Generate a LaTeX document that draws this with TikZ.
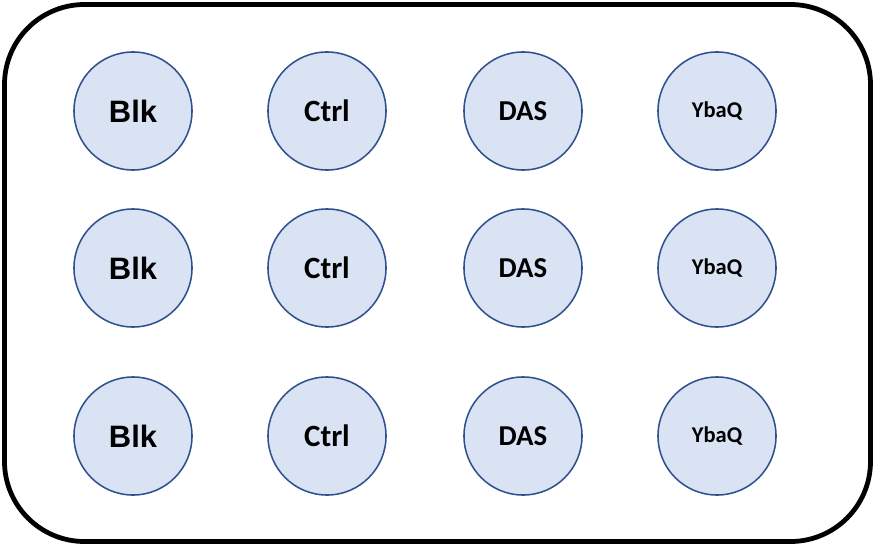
\documentclass[tikz,border=0pt]{standalone}
\usepackage{fontspec}
\setmainfont{Carlito}
\setsansfont{Liberation Sans}
\usetikzlibrary{positioning}
\definecolor{wellfill}{HTML}{DAE3F3}
\definecolor{welldraw}{HTML}{2F528F}
\tikzstyle{well}=[circle,draw=welldraw,fill=wellfill,line width=1.1pt,minimum size=2.95cm,inner sep=0pt]
\tikzstyle{plate}=[draw=black,line width=3.4pt,rounded corners=2cm]

\begin{document}
\begin{tikzpicture}[x=0.025cm,y=-0.025cm]
	\useasboundingbox (0, 0) rectangle (874, 545);
	\node[plate, minimum width=866*0.025cm, minimum height=537*0.025cm] (plate) at (437.5, 273) {};
	
	\node[well, font=\sffamily\bfseries\fontsize{22}{24}\selectfont] (blk1) at (133, 111) {Blk};
	\node[well, font=\rmfamily\bfseries\fontsize{22}{24}\selectfont] (ctrl1) at (327, 111) {Ctrl};
	\node[well, font=\rmfamily\bfseries\fontsize{20.5}{22}\selectfont] (das1) at (523, 111) {DAS};
	\node[well, font=\rmfamily\bfseries\fontsize{16}{18}\selectfont] (ybaq1) at (717, 111) {YbaQ};
	
	\node[well, font=\sffamily\bfseries\fontsize{22}{24}\selectfont] (blk2) at (133, 268) {Blk};
	\node[well, font=\rmfamily\bfseries\fontsize{22}{24}\selectfont] (ctrl2) at (327, 268) {Ctrl};
	\node[well, font=\rmfamily\bfseries\fontsize{20.5}{22}\selectfont] (das2) at (523, 268) {DAS};
	\node[well, font=\rmfamily\bfseries\fontsize{16}{18}\selectfont] (ybaq2) at (717, 268) {YbaQ};
	
	\node[well, font=\sffamily\bfseries\fontsize{22}{24}\selectfont] (blk3) at (133, 436) {Blk};
	\node[well, font=\rmfamily\bfseries\fontsize{22}{24}\selectfont] (ctrl3) at (327, 436) {Ctrl};
	\node[well, font=\rmfamily\bfseries\fontsize{20.5}{22}\selectfont] (das3) at (523, 436) {DAS};
	\node[well, font=\rmfamily\bfseries\fontsize{16}{18}\selectfont] (ybaq3) at (717, 436) {YbaQ};
\end{tikzpicture}
\end{document}
